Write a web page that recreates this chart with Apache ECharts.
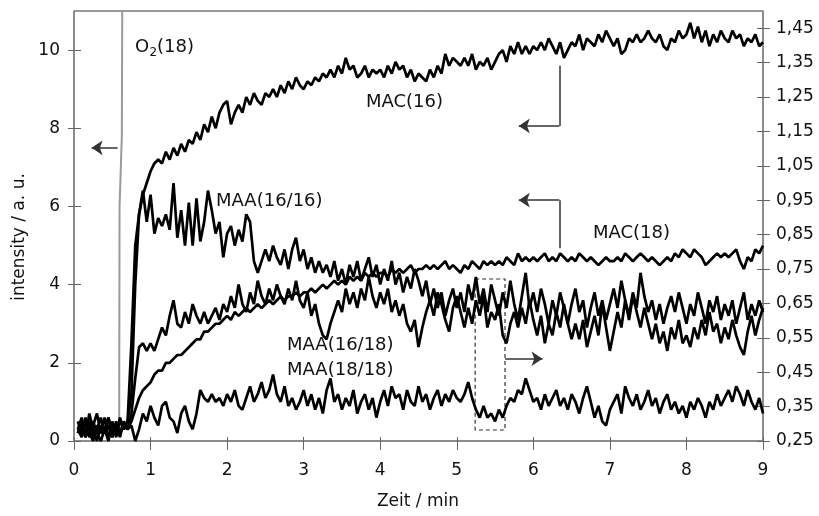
<!DOCTYPE html>
<html>
<head>
<meta charset="utf-8">
<script src="https://cdn.jsdelivr.net/npm/echarts@6/dist/echarts.min.js"></script>
<style>
html,body{margin:0;padding:0;background:#fff}
#main{width:819px;height:516px}
</style>
</head>
<body>
<div id="main"></div>
<script>
// sampling times, min
var times = [
 0.05,0.1,0.15,0.2,0.25,0.3,0.35,0.4,0.45,0.5,
 0.55,0.6,0.65,0.7,0.75,0.8,0.85,0.9,0.95,1,
 1.05,1.1,1.15,1.2,1.25,1.3,1.35,1.4,1.45,1.5,
 1.55,1.6,1.65,1.7,1.75,1.8,1.85,1.9,1.95,2,
 2.05,2.1,2.15,2.2,2.25,2.3,2.35,2.4,2.45,2.5,
 2.55,2.6,2.65,2.7,2.75,2.8,2.85,2.9,2.95,3,
 3.05,3.1,3.15,3.2,3.25,3.3,3.35,3.4,3.45,3.5,
 3.55,3.6,3.65,3.7,3.75,3.8,3.85,3.9,3.95,4,
 4.05,4.1,4.15,4.2,4.25,4.3,4.35,4.4,4.45,4.5,
 4.55,4.6,4.65,4.7,4.75,4.8,4.85,4.9,4.95,5,
 5.05,5.1,5.15,5.2,5.25,5.3,5.35,5.4,5.45,5.5,
 5.55,5.6,5.65,5.7,5.75,5.8,5.85,5.9,5.95,6,
 6.05,6.1,6.15,6.2,6.25,6.3,6.35,6.4,6.45,6.5,
 6.55,6.6,6.65,6.7,6.75,6.8,6.85,6.9,6.95,7,
 7.05,7.1,7.15,7.2,7.25,7.3,7.35,7.4,7.45,7.5,
 7.55,7.6,7.65,7.7,7.75,7.8,7.85,7.9,7.95,8,
 8.05,8.1,8.15,8.2,8.25,8.3,8.35,8.4,8.45,8.5,
 8.55,8.6,8.65,8.7,8.75,8.8,8.85,8.9,8.95,9
];

// left axis (intensity / a. u.)
var mac16 = [
 0.3,0.1,0.5,0.2,0.0,0.4,0.2,0.6,0.1,0.3,
 0.2,0.5,0.3,0.5,2.5,5.0,5.8,6.3,6.6,6.9,
 7.1,7.2,7.1,7.4,7.2,7.5,7.3,7.6,7.4,7.7,
 7.6,7.9,7.7,8.1,7.9,8.3,8.0,8.4,8.6,8.7,
 8.1,8.4,8.6,8.4,8.8,8.6,8.9,8.7,8.6,8.9,
 8.8,9.0,8.8,9.1,8.9,9.2,9.0,9.3,9.1,9.0,
 9.2,9.1,9.3,9.2,9.4,9.3,9.5,9.3,9.6,9.4,
 9.8,9.5,9.6,9.3,9.4,9.6,9.3,9.5,9.4,9.5,
 9.3,9.6,9.4,9.7,9.5,9.6,9.3,9.5,9.2,9.4,
 9.3,9.2,9.5,9.3,9.6,9.4,9.9,9.6,9.8,9.7,
 9.6,9.8,9.6,9.9,9.5,9.7,9.6,9.8,9.5,9.7,
 9.9,10.0,9.7,10.1,9.9,10.2,9.9,10.1,9.9,10.1,
 10.0,10.2,10.0,10.3,10.1,9.9,10.2,9.8,10.0,10.2,
 10.1,10.4,10.0,10.3,10.2,10.1,10.4,10.2,10.5,10.3,
 10.1,10.3,9.9,10.0,10.3,10.2,10.4,10.2,10.3,10.5,
 10.3,10.2,10.4,10.1,10.0,10.3,10.2,10.5,10.3,10.4,
 10.7,10.3,10.6,10.2,10.5,10.1,10.4,10.2,10.5,10.3,
 10.2,10.5,10.3,10.4,10.1,10.3,10.2,10.4,10.1,10.2
];
var mac18 = [
 0.2,0.4,0.1,0.3,0.5,0.2,0.0,0.3,0.6,0.2,
 0.4,0.1,0.5,0.3,0.5,0.8,1.1,1.3,1.4,1.5,
 1.7,1.8,1.8,2.0,2.0,2.1,2.2,2.2,2.3,2.4,
 2.5,2.6,2.6,2.8,2.8,2.9,3.0,3.0,3.1,3.2,
 3.1,3.3,3.2,3.3,3.4,3.3,3.4,3.5,3.4,3.5,
 3.6,3.5,3.6,3.7,3.6,3.7,3.7,3.8,3.7,3.8,
 3.8,3.9,3.8,3.9,4.0,3.9,4.0,4.1,4.0,4.1,
 4.0,4.2,4.1,4.2,4.1,4.3,4.2,4.3,4.2,4.3,
 4.3,4.2,4.4,4.3,4.4,4.3,4.4,4.5,4.3,4.4,
 4.4,4.5,4.4,4.5,4.4,4.5,4.6,4.4,4.5,4.4,
 4.3,4.5,4.4,4.6,4.5,4.4,4.6,4.5,4.6,4.5,
 4.6,4.5,4.7,4.6,4.5,4.8,4.6,4.7,4.6,4.7,
 4.6,4.7,4.8,4.6,4.7,4.6,4.8,4.7,4.6,4.7,
 4.6,4.8,4.7,4.6,4.7,4.6,4.5,4.6,4.7,4.6,
 4.6,4.7,4.6,4.8,4.7,4.6,4.7,4.8,4.7,4.6,
 4.7,4.6,4.5,4.6,4.7,4.6,4.8,4.7,4.9,4.8,
 4.7,4.9,4.8,4.7,4.5,4.6,4.7,4.8,4.7,4.8,
 4.7,4.8,4.9,4.6,4.4,4.7,4.6,4.9,4.8,5.0
];
var o2Times = [0.59, 0.595, 0.625, 0.635];
var o2Values = [0.2, 6.0, 7.8, 14];

// right axis
var maa1616 = [
 .307,.273,.318,.261,.295,.330,.273,.284,.250,.307,
 .261,.318,.284,.307,.386,.705,.909,.978,.887,.966,
 .853,.898,.875,.909,.864,1.000,.841,.921,.818,.943,
 .818,.955,.830,.887,.978,.921,.853,.887,.784,.853,
 .875,.818,.864,.830,.909,.887,.773,.739,.773,.807,
 .773,.818,.784,.762,.807,.750,.807,.841,.773,.807,
 .750,.784,.739,.773,.739,.762,.727,.773,.716,.750,
 .705,.762,.727,.773,.716,.750,.784,.727,.762,.705,
 .750,.716,.773,.705,.739,.682,.727,.693,.750,.716,
 .671,.716,.648,.693,.637,.682,.614,.659,.693,.637,
 .682,.625,.705,.659,.727,.648,.693,.625,.705,.659,
 .614,.682,.637,.716,.648,.602,.671,.739,.637,.682,
 .625,.693,.648,.591,.659,.614,.682,.637,.591,.648,
 .693,.625,.659,.580,.637,.682,.614,.659,.602,.648,
 .693,.637,.716,.659,.614,.682,.637,.739,.671,.625,
 .659,.602,.648,.591,.637,.671,.625,.682,.637,.591,
 .648,.614,.682,.637,.591,.659,.625,.671,.602,.648,
 .614,.659,.591,.637,.682,.602,.648,.614,.659,.625
];
var maa1618 = [
 .284,.318,.273,.307,.261,.284,.318,.273,.295,.261,
 .307,.273,.295,.284,.330,.432,.523,.534,.512,.534,
 .512,.546,.580,.557,.614,.659,.591,.580,.625,.591,
 .648,.614,.591,.625,.591,.614,.637,.602,.648,.625,
 .671,.637,.705,.648,.625,.682,.648,.716,.671,.648,
 .693,.659,.705,.671,.648,.693,.659,.716,.659,.637,
 .682,.614,.648,.591,.557,.546,.591,.625,.659,.625,
 .693,.648,.682,.637,.693,.659,.727,.671,.637,.682,
 .648,.693,.625,.659,.614,.648,.591,.568,.602,.523,
 .580,.625,.659,.614,.682,.648,.602,.568,.637,.671,
 .625,.580,.637,.591,.659,.614,.671,.580,.625,.602,
 .648,.557,.534,.591,.625,.580,.637,.591,.659,.602,
 .557,.614,.534,.591,.557,.625,.580,.648,.591,.546,
 .591,.546,.602,.523,.568,.614,.557,.648,.580,.512,
 .568,.625,.580,.659,.602,.671,.625,.580,.637,.591,
 .546,.591,.534,.568,.512,.580,.546,.602,.534,.557,
 .523,.580,.546,.602,.557,.625,.568,.591,.534,.580,
 .546,.602,.557,.523,.500,.568,.614,.557,.602,.637
];
var maa1818 = [
 .273,.307,.261,.330,.284,.250,.295,.273,.318,.261,
 .295,.273,.307,.284,.295,.250,.284,.330,.307,.352,
 .318,.295,.352,.364,.318,.307,.273,.330,.352,.307,
 .284,.330,.398,.375,.364,.386,.364,.375,.352,.386,
 .364,.398,.352,.341,.375,.409,.364,.386,.421,.375,
 .398,.443,.386,.364,.409,.352,.375,.341,.364,.398,
 .352,.386,.341,.375,.330,.398,.432,.364,.386,.341,
 .375,.352,.398,.330,.364,.386,.341,.375,.318,.364,
 .398,.352,.409,.375,.386,.341,.398,.364,.352,.409,
 .364,.386,.341,.375,.398,.352,.386,.364,.398,.375,
 .364,.386,.421,.375,.341,.318,.352,.318,.330,.307,
 .341,.318,.352,.375,.364,.398,.386,.432,.398,.364,
 .375,.341,.386,.352,.375,.398,.352,.375,.341,.386,
 .364,.330,.375,.409,.364,.318,.352,.307,.295,.341,
 .364,.386,.330,.409,.375,.352,.386,.341,.364,.398,
 .352,.375,.330,.364,.386,.341,.364,.330,.352,.318,
 .364,.341,.375,.352,.318,.364,.341,.386,.352,.375,
 .398,.364,.409,.386,.352,.398,.364,.341,.375,.330
];

var leftTicks = [0, 2, 4, 6, 8, 10];
var rightTicks = [0.25, 0.35, 0.45, 0.55, 0.65, 0.75, 0.85, 0.95, 1.05, 1.15, 1.25, 1.35, 1.45];

var myChart = echarts.init(document.getElementById('main'));
var font = 'DejaVu Sans';
var axisGray = '#888';
var tickGray = '#666';

function pairs(t, v) {
    return t.map(function (x, i) { return [x, v[i]]; });
}
function trace(name, yIndex, t, v, color, width) {
    return {
        name: name, type: 'line', yAxisIndex: yIndex,
        data: pairs(t, v),
        showSymbol: false, symbol: 'none', clip: true, silent: true,
        lineStyle: { color: color, width: width }
    };
}
var arrowStyle = { color: '#333', width: 1.5, type: 'solid' };

var s_o2 = trace('O2(18)', 0, o2Times, o2Values, '#9a9a9a', 2);
var s_mac16 = trace('MAC(16)', 0, times, mac16, '#000', 2.7);
s_mac16.markLine = {
    silent: true, animation: false,
    symbol: ['none', 'arrow'], symbolSize: 11,
    label: { show: false }, lineStyle: arrowStyle,
    data: [
        [{ coord: [0.57, 7.5] }, { coord: [0.23, 7.5] }],
        [{ coord: [6.34, 9.6], symbol: 'none' }, { coord: [6.34, 8.06], symbol: 'none' }],
        [{ coord: [6.34, 8.06] }, { coord: [5.81, 8.06] }],
        [{ coord: [6.34, 4.93], symbol: 'none' }, { coord: [6.34, 6.16], symbol: 'none' }],
        [{ coord: [6.34, 6.16] }, { coord: [5.81, 6.16] }]
    ]
};
var s_mac18 = trace('MAC(18)', 0, times, mac18, '#000', 2.7);
var s_maa1616 = trace('MAA(16/16)', 1, times, maa1616, '#000', 2.7);
var s_maa1618 = trace('MAA(16/18)', 1, times, maa1618, '#000', 2.7);
var s_maa1818 = trace('MAA(18/18)', 1, times, maa1818, '#000', 2.7);
s_maa1818.markLine = {
    silent: true, animation: false,
    symbol: ['none', 'arrow'], symbolSize: 11,
    label: { show: false }, lineStyle: arrowStyle,
    data: [[{ coord: [5.63, 0.489] }, { coord: [6.12, 0.489] }]]
};
s_maa1818.markArea = {
    silent: true, animation: false,
    label: { show: false },
    itemStyle: { color: 'rgba(0,0,0,0)', borderColor: '#333', borderWidth: 1.2, borderType: [4, 3] },
    data: [[{ coord: [5.24, 0.721] }, { coord: [5.63, 0.282] }]]
};

var labelStyle = { fontFamily: font, fontSize: 18, fill: '#111', verticalAlign: 'middle' };
function txt(text, x, y, extra) {
    var st = Object.assign({}, labelStyle, { text: text, x: x, y: y }, extra || {});
    return { type: 'text', silent: true, style: st };
}
// extra axis that only draws the inner half of the crossing ticks
function tickAxis(pos, min, max, len, ticks) {
    return {
        type: 'value', min: min, max: max, position: pos,
        axisLine: { show: false, onZero: false },
        axisTick: { show: true, inside: true, length: len, customValues: ticks, lineStyle: { color: tickGray, width: 1 } },
        axisLabel: { show: false, customValues: ticks },
        splitLine: { show: false }
    };
}

var option = {
    animation: false,
    backgroundColor: '#fff',
    textStyle: { fontFamily: font },
    grid: {
        left: 74, right: 56, top: 11, bottom: 75,
        show: true, borderColor: '#333', borderWidth: 1,
        outerBoundsMode: 'none'
    },
    xAxis: [{
        type: 'value', min: 0, max: 9, interval: 1, position: 'bottom',
        axisLine: { show: true, onZero: false, lineStyle: { color: axisGray, width: 1.5 } },
        axisTick: { show: true, length: 9, lineStyle: { color: tickGray, width: 1 } },
        axisLabel: { color: '#111', fontSize: 17, fontFamily: font, margin: 21 },
        splitLine: { show: false }
    }, {
        type: 'value', min: 0, max: 9, interval: 1, position: 'bottom',
        axisLine: { show: false, onZero: false },
        axisTick: { show: true, inside: true, length: 4, lineStyle: { color: tickGray, width: 1 } },
        axisLabel: { show: false },
        splitLine: { show: false }
    }],
    yAxis: [{
        type: 'value', min: 0, max: 11, position: 'left',
        axisLine: { show: true, onZero: false, lineStyle: { color: axisGray, width: 1.5 } },
        axisTick: { show: true, length: 6, customValues: leftTicks, lineStyle: { color: tickGray, width: 1 } },
        axisLabel: { color: '#111', fontSize: 17, fontFamily: font, margin: 14, customValues: leftTicks },
        splitLine: { show: false }
    }, {
        type: 'value', min: 0.25, max: 1.5, position: 'right',
        axisLine: { show: true, onZero: false, lineStyle: { color: axisGray, width: 1.5 } },
        axisTick: { show: true, length: 7, customValues: rightTicks, lineStyle: { color: tickGray, width: 1 } },
        axisLabel: {
            color: '#111', fontSize: 17, fontFamily: font, margin: 13, customValues: rightTicks,
            formatter: function (v) { return v.toFixed(2).replace('.', ','); }
        },
        splitLine: { show: false }
    },
    tickAxis('left', 0, 11, 7, leftTicks),
    tickAxis('right', 0.25, 1.5, 6, rightTicks)
    ],
    graphic: [
        txt('O', 135, 47),
        txt('2', 149.5, 53, { fontSize: 12 }),
        txt('(18)', 157, 47),
        txt('MAC(16)', 366, 102),
        txt('MAA(16/16)', 216, 201),
        txt('MAC(18)', 593, 233),
        txt('MAA(16/18)', 287, 345),
        txt('MAA(18/18)', 287, 370),
        txt('Zeit / min', 418, 502, { fontSize: 17, align: 'center' }),
        {
            type: 'text', silent: true, x: 20, y: 237, rotation: Math.PI / 2,
            style: { text: 'intensity / a. u.', fontFamily: font, fontSize: 17, fill: '#111', align: 'center', verticalAlign: 'middle' }
        }
    ],
    series: [s_o2, s_mac16, s_mac18, s_maa1616, s_maa1618, s_maa1818]
};

myChart.setOption(option);
</script>
</body>
</html>
